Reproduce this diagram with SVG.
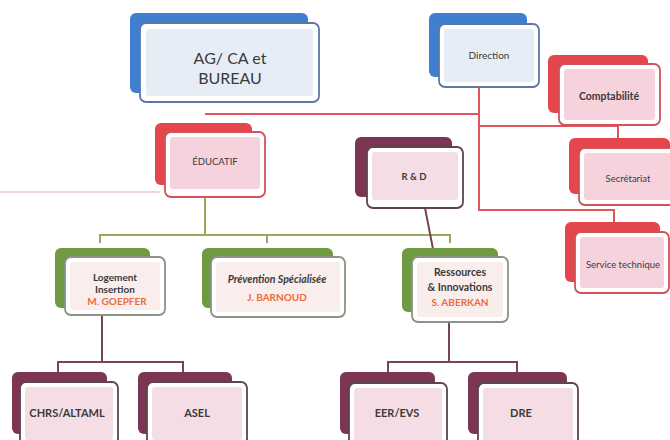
<svg xmlns="http://www.w3.org/2000/svg" width="670" height="440" viewBox="0 0 670 440">
<style>
text{font-family:Lato,"Open Sans","Liberation Sans",sans-serif;fill:#3a3a3a;text-anchor:middle;font-weight:bold}
text.n{font-weight:normal}
.back{stroke:none}
.bb{fill:#3f7fcf}.rb{fill:#e3474d}.mb{fill:#7c3552}.gb{fill:#6f9a42}
.front{fill:#fff;stroke-width:1.8}
.bf{stroke:#5a78a8}.rf{stroke:#d0545a}.mf{stroke:#5e4450}.gf{stroke:#8c9484}
.bi{fill:#e7edf7}.ri{fill:#f6d3dc}.mi{fill:#f5dde6}.gi{fill:#f9eeec}
text.name{fill:#ec6a3e}
.red{stroke:#e0555b;stroke-width:2;fill:none}
.grn{stroke:#9aa85a;stroke-width:2;fill:none}
.mar{stroke:#7a4458;stroke-width:2;fill:none}
</style>
<rect width="670" height="440" fill="#fff"/>
<g id="connectors">
<line x1="0" y1="192" x2="160" y2="192" stroke="#f9d3d8" stroke-width="2"/>
<path class="red" d="M479 87 V210 H614 V222 M205 114 H479 M479 126 H618 V138"/>
<path class="grn" d="M205 197 V235 M100 243 V235 H450 V243 M267 235 V243"/>
<path class="mar" d="M425 208 L433 249"/>
<path class="mar" d="M102 316 V362 M58 372 V362 H183 V372 M449 322 V362 M388 372 V362 H517 V372"/>
</g>
<g id="ag-ca-bureau">
<rect class="back bb" x="130" y="13" width="178" height="80" rx="6"/>
<rect class="front bf" x="140" y="23" width="179" height="79" rx="6"/>
<rect class="bi" x="146" y="29" width="167" height="67" rx="3"/>
<text class="n" x="230" y="64" font-size="16">AG/ CA et</text>
<text class="n" x="230" y="84" font-size="16">BUREAU</text>
</g>
<g id="direction">
<rect class="back bb" x="429" y="13" width="98" height="64" rx="6"/>
<rect class="front bf" x="439" y="24" width="100" height="63" rx="6"/>
<rect class="bi" x="444" y="29" width="90" height="53" rx="3"/>
<text class="n" x="489" y="59" font-size="10">Direction</text>
</g>
<g id="comptabilite">
<rect class="back rb" x="548" y="55" width="100" height="58" rx="6"/>
<rect class="front rf" x="559" y="64" width="101" height="61" rx="6"/>
<rect class="ri" x="564" y="69" width="91" height="51" rx="3"/>
<text x="609" y="100" font-size="10.5">Comptabilité</text>
</g>
<g id="secretariat">
<rect class="back rb" x="569" y="138" width="101" height="56" rx="6"/>
<rect class="front rf" x="579" y="148" width="100" height="57" rx="6"/>
<rect class="ri" x="584" y="153" width="90" height="47" rx="3"/>
<text class="n" x="628" y="182" font-size="9.5">Secrétariat</text>
</g>
<g id="service-technique">
<rect class="back rb" x="565" y="222" width="95" height="60" rx="6"/>
<rect class="front rf" x="575" y="232" width="94" height="61" rx="6"/>
<rect class="ri" x="580" y="237" width="84" height="51" rx="3"/>
<text class="n" x="623" y="268" font-size="9.5">Service technique</text>
</g>
<g id="educatif">
<rect class="back rb" x="155" y="123" width="97" height="62" rx="6"/>
<rect class="front rf" x="165" y="132" width="100" height="65" rx="6"/>
<rect class="ri" x="170" y="137" width="90" height="52" rx="3"/>
<text class="n" x="215" y="165" font-size="9.5">ÉDUCATIF</text>
</g>
<g id="r-et-d">
<rect class="back mb" x="355" y="137" width="97" height="60" rx="6"/>
<rect class="front mf" x="367" y="147" width="96" height="61" rx="6"/>
<rect class="mi" x="372" y="152" width="86" height="48" rx="3"/>
<text x="414" y="180" font-size="9.5">R &amp; D</text>
</g>
<g id="logement-insertion">
<rect class="back gb" x="55" y="248" width="95" height="60" rx="6"/>
<rect class="front gf" x="65" y="257" width="100" height="58" rx="6"/>
<rect class="gi" x="70" y="262" width="90" height="48" rx="3"/>
<text x="115" y="281" font-size="10">Logement</text>
<text x="115" y="293" font-size="10">Insertion</text>
<text class="name" x="117" y="305" font-size="10">M. GOEPFER</text>
</g>
<g id="prevention-specialisee">
<rect class="back gb" x="202" y="248" width="131" height="60" rx="6"/>
<rect class="front gf" x="211" y="257" width="134" height="60" rx="6"/>
<rect class="gi" x="216" y="262" width="124" height="50" rx="3"/>
<text x="277" y="283" font-size="10.5" font-style="italic">Prévention Spécialisée</text>
<text class="name" x="277" y="301" font-size="10">J. BARNOUD</text>
</g>
<g id="ressources-innovations">
<rect class="back gb" x="402" y="248" width="96" height="64" rx="6"/>
<rect class="front gf" x="412" y="257" width="96" height="65" rx="6"/>
<rect class="gi" x="417" y="262" width="86" height="55" rx="3"/>
<text x="460" y="276" font-size="10.5">Ressources</text>
<text x="460" y="291" font-size="10.5">&amp; Innovations</text>
<text class="name" x="460" y="306" font-size="10">S. ABERKAN</text>
</g>
<g id="chrs-altaml">
<rect class="back mb" x="12" y="372" width="95" height="62" rx="6"/>
<rect class="front mf" x="20" y="382" width="98" height="64" rx="6"/>
<rect class="mi" x="25" y="387" width="88" height="53" rx="3"/>
<text x="67" y="417" font-size="11">CHRS/ALTAML</text>
</g>
<g id="asel">
<rect class="back mb" x="138" y="372" width="94" height="62" rx="6"/>
<rect class="front mf" x="147" y="382" width="100" height="64" rx="6"/>
<rect class="mi" x="152" y="387" width="90" height="53" rx="3"/>
<text x="197" y="417" font-size="11">ASEL</text>
</g>
<g id="eer-evs">
<rect class="back mb" x="340" y="372" width="95" height="62" rx="6"/>
<rect class="front mf" x="349" y="383" width="98" height="64" rx="6"/>
<rect class="mi" x="354" y="388" width="88" height="53" rx="3"/>
<text x="397" y="417" font-size="11">EER/EVS</text>
</g>
<g id="dre">
<rect class="back mb" x="468" y="372" width="99" height="62" rx="6"/>
<rect class="front mf" x="478" y="383" width="100" height="64" rx="6"/>
<rect class="mi" x="483" y="388" width="90" height="53" rx="3"/>
<text x="521" y="417" font-size="11">DRE</text>
</g>
</svg>
